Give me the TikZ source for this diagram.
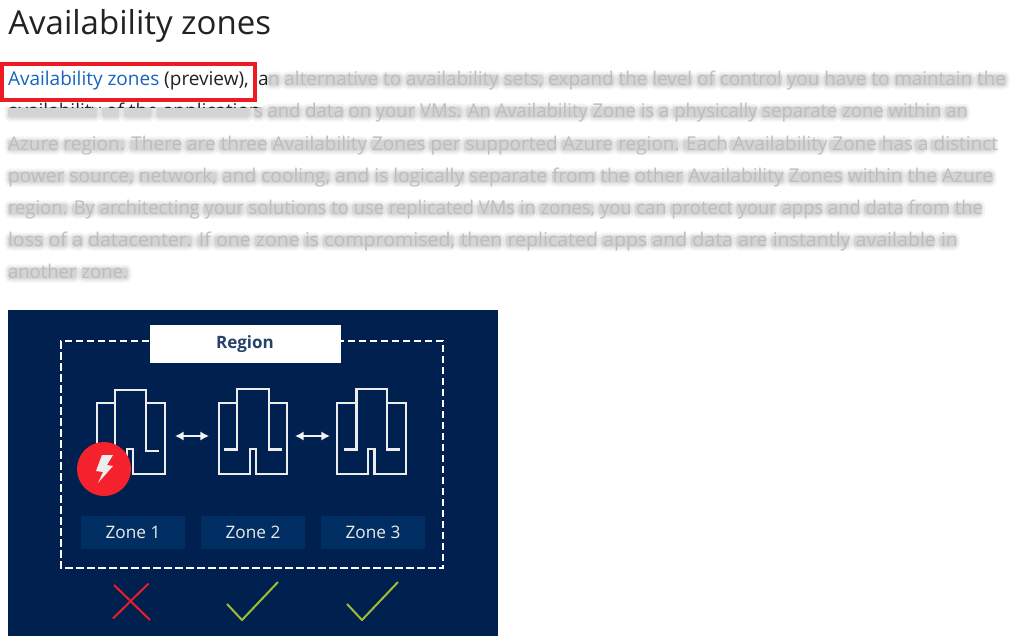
\documentclass[tikz,border=0pt]{standalone}
\usepackage{fontspec}
\setmainfont{Open Sans}
\usetikzlibrary{arrows.meta}
\definecolor{panelblue}{HTML}{002050}
\definecolor{zonefill}{HTML}{002D62}
\definecolor{redbox}{HTML}{ED1C24}
\definecolor{alertred}{HTML}{F5222D}
\definecolor{okgreen}{HTML}{9DBF2E}
\definecolor{linkblue}{HTML}{1565C0}
\definecolor{inktext}{HTML}{222222}
\definecolor{blurink}{HTML}{BDBDBD}
\newlength{\pxu}\setlength{\pxu}{0.75pt}
\newcommand{\pxfont}[1]{\fontsize{#1\pxu}{#1\pxu}\selectfont}
\newsavebox{\natbox}
\newlength{\xp}\newlength{\xq}\newlength{\spw}
\newcommand{\bodyfont}{\pxfont{19}}
\font\measfont="Open Sans" at 14.25pt
% soft smudge under one word; uses \ratio, \basey, \xp
\def\smudge#1 #2\stop{%
  \setbox\natbox=\hbox{\measfont #1}%
  \pgfmathsetlength{\xq}{\xp+\ratio*\wd\natbox}%
  \fill[black,opacity=.045,rounded corners=4pt] ([xshift=\xp]-3.5,\basey-13.5) rectangle ([xshift=\xq]3.5,\basey+4.5);
  \fill[black,opacity=.06,rounded corners=3pt] ([xshift=\xp]-1.5,\basey-11.5) rectangle ([xshift=\xq]1.5,\basey+2.5);
  \fill[black,opacity=.07,rounded corners=2pt] ([xshift=\xp]0,\basey-10) rectangle ([xshift=\xq]0,\basey+0.5);
  \pgfmathsetlength{\xp}{\xq+\ratio*\spw}%
  \ifx\relax#2\relax\else\smudge#2\stop\fi
}
% bars only: x, baseline y, width in px, text
\newcommand{\smudgeline}[4]{%
  \setbox\natbox=\hbox{\measfont #4}%
  \pgfmathsetmacro{\ratio}{(#3*0.75)/\the\wd\natbox}%
  \def\basey{#2}%
  \setbox\natbox=\hbox{\measfont x x}\setlength{\spw}{\wd\natbox}%
  \setbox\natbox=\hbox{\measfont xx}\addtolength{\spw}{-\wd\natbox}%
  \setlength{\xp}{#1\pxu}%
  \smudge#4 \stop
}
% bars with the words in light grey on them: name, x, y, width, text
\newcommand{\blurline}[5]{%
  \smudgeline{#2}{#3}{#4}{#5}%
  \node[blurtext] (#1) at (#2,#3) {\scalebox{\ratio}[1]{#5}};
}
\tikzset{
  blurtext/.style={anchor=base west,inner sep=0pt,outer sep=0pt,text=blurink,font=\bodyfont},
  bodytext/.style={anchor=base west,inner sep=0pt,outer sep=0pt,font=\bodyfont},
  towerline/.style={draw=white!93!black,line width=2.4\pxu,line join=miter},
  zonebox/.style={fill=zonefill,minimum width=104\pxu,minimum height=33\pxu,inner sep=0pt,text=white!92!black,font=\pxfont{17.2}},
  pxtip/.tip={Latex[length=6.5pt,width=7pt]},
  linkarrow/.style={draw=white!95!black,line width=2\pxu,pxtip-pxtip},
  markstroke/.style={line width=2\pxu},
}
\newcommand{\tower}[8]{% xl xil xir xr dl dr ytop ystub
  \path[towerline] (#1,403) -- (#2,403) -- (#2,#7) -- (#3,#7) -- (#3,403) -- (#4,403) -- (#4,474) -- (#6,474) -- (#6,449) -- (#5,449) -- (#5,474) -- (#1,474) -- cycle;
  \path[towerline] (#2,403) -- (#2,#8) -- (#2-13,#8);
  \path[towerline] (#3,403) -- (#3,#8) -- (#3+13,#8);
}
\begin{document}
\begin{tikzpicture}[x=0.75pt,y=-0.75pt]
\useasboundingbox[fill=white] (0,0) rectangle (1018,639);
% title
\node[anchor=base west,inner sep=0pt,text=inktext,font=\pxfont{33}] (title) at (8,34) {Availability zones};
% blurred paragraph
\begin{scope}
\clip (263,62) rectangle (1018,107) (0,107) rectangle (1018,290);
\blurline{bl1}{268}{85}{738}{n alternative to availability sets, expand the level of control you have to maintain the}
\smudgeline{8}{117}{242}{availability of the application}
\blurline{bl2}{254}{117}{714}{s and data on your VMs. An Availability Zone is a physically separate zone within an}
\blurline{bl3}{8}{150}{990}{Azure region. There are three Availability Zones per supported Azure region. Each Availability Zone has a distinct}
\blurline{bl4}{8}{182}{985}{power source, network, and cooling, and is logically separate from the other Availability Zones within the Azure}
\blurline{bl5}{8}{214}{975}{region. By architecting your solutions to use replicated VMs in zones, you can protect your apps and data from the}
\blurline{bl6}{8}{246}{950}{loss of a datacenter. If one zone is compromised, then replicated apps and data are instantly available in}
\blurline{bl7}{8}{278}{120}{another zone.}
\end{scope}
% sharp text
\begin{scope}
\clip (0,100) rectangle (263,107.5);
\node[bodytext,text=inktext] (line2) at (8,117) {availability of the application};
\end{scope}
\node[bodytext] (lead) at (8,85) {\textcolor{linkblue}{Availability zones} \textcolor{inktext}{(preview),}};
\node[bodytext,text=inktext] (leada) at (258,85) {a};
\draw[redbox,line width=4\pxu] (2,63.5) rectangle (255,100);
% panel
\fill[panelblue] (8,310) rectangle (498,636);
\draw[white,line width=2\pxu,dash pattern=on 7.5\pxu off 3.5\pxu] (149,341) -- (61,341) -- (61,568) -- (443,568) -- (443,341) -- (340,341);
\node[fill=white,minimum width=191\pxu,minimum height=38\pxu,inner sep=0pt,text=panelblue!85!white,font=\pxfont{17}\bfseries] (region) at (245,344) {Region};
% towers
\tower{97}{115}{146}{165}{127}{133}{390}{451}
\tower{219}{237}{269}{287}{250}{256}{389}{449.5}
\tower{337}{356.5}{387}{406}{368}{374.5}{389}{449.5}
% arrows
\coordinate (a1) at (175,436); \coordinate (a2) at (209,436);
\coordinate (a3) at (295,436); \coordinate (a4) at (330,436);
\draw[linkarrow] (a1) -- (a2);
\draw[linkarrow] (a3) -- (a4);
% alert
\fill[alertred] (104,469) circle (27);
\fill[white!93!black] (102,455) -- (113,455) -- (107,465) -- (113,466) -- (98,483) -- (103,472) -- (96,471) -- cycle;
% zones
\node[zonebox] (z1) at (133,532.5) {Zone 1};
\node[zonebox] (z2) at (253,532.5) {Zone 2};
\node[zonebox] (z3) at (373,532.5) {Zone 3};
% marks
\draw[redbox,markstroke] (114,585) -- (150,620) (148.5,583.5) -- (113,618.5);
\draw[okgreen,markstroke] (227,604) -- (242,620) -- (278,582);
\draw[okgreen,markstroke] (347,604) -- (362,620) -- (398,582);
\end{tikzpicture}
\end{document}
